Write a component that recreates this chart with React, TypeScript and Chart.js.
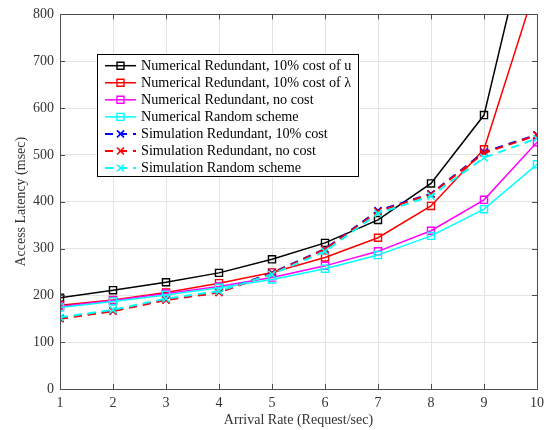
import React, { useEffect, useRef } from "react";
import { Chart, registerables } from "chart.js";
Chart.register(...registerables);

const arrivalRates = [1, 2, 3, 4, 5, 6, 7, 8, 9, 10];
const numRedundantCostU = [195, 211, 228, 248, 277, 312, 361, 439, 585, 1060];
const numRedundantCostLambda = [179, 190, 206, 226, 249, 281, 323, 391, 512, 868];
const numRedundantNoCost = [176, 189, 204, 219, 238, 263, 294, 338, 404, 527];
const numRandom = [174, 187, 201, 216, 234, 257, 286, 327, 384, 480];
const simRedundantCost = [151, 167, 191, 207, 248, 299, 381, 417, 506, 543];
const simRedundantNoCost = [150, 166, 190, 206, 247, 298, 379, 416, 504, 542];
const simRandom = [153, 169, 193, 209, 245, 294, 375, 412, 494, 535];

const seriesLabels = [
  "Numerical Redundant, 10% cost of u",
  "Numerical Redundant, 10% cost of \u03bb",
  "Numerical Redundant, no cost",
  "Numerical Random scheme",
  "Simulation Redundant, 10% cost",
  "Simulation Redundant, no cost",
  "Simulation Random scheme",
];
const seriesColors = ["#000000", "#ff0000", "#ff00ff", "#00ffff", "#0000ff", "#ff0000", "#00ffff"];
const yTicks = [0, 100, 200, 300, 400, 500, 600, 700, 800];

const FONT = "'Liberation Serif', 'Times New Roman', serif";

export default function App() {
  const ref = useRef<HTMLCanvasElement>(null);

  useEffect(() => {
    const canvas = ref.current!;
    const values = [
      numRedundantCostU,
      numRedundantCostLambda,
      numRedundantNoCost,
      numRandom,
      simRedundantCost,
      simRedundantNoCost,
      simRandom,
    ];
    const datasets = values.map((vals, i) => {
      const sim = i >= 4;
      return {
        label: seriesLabels[i],
        data: vals.map((y, k) => ({ x: arrivalRates[k], y })),
        borderColor: seriesColors[i],
        backgroundColor: "rgba(0,0,0,0)",
        borderWidth: sim ? 2 : 1.5,
        borderDash: sim ? [8, 6] : [],
        pointStyle: sim ? "crossRot" : "rect",
        pointRadius: 5,
        pointBorderWidth: sim ? 1.6 : 1.4,
        pointBorderColor: seriesColors[i],
        pointBackgroundColor: "rgba(0,0,0,0)",
        tension: 0,
        order: 6 - i,
      };
    });

    const framePlugin = {
      id: "frameLegend",
      afterDraw(chart: any) {
        const ctx = chart.ctx as CanvasRenderingContext2D;
        const { left, right, top, bottom } = chart.chartArea;
        const xs = chart.scales.x;
        const ys = chart.scales.y;
        ctx.save();
        ctx.strokeStyle = "#4d4d4d";
        ctx.lineWidth = 1;
        ctx.strokeRect(Math.round(left) + 0.5, Math.round(top) + 0.5, Math.round(right - left), Math.round(bottom - top));
        ctx.beginPath();
        const tl = 5;
        arrivalRates.forEach((v) => {
          const px = Math.round(xs.getPixelForValue(v)) + 0.5;
          ctx.moveTo(px, bottom);
          ctx.lineTo(px, bottom - tl);
          ctx.moveTo(px, top);
          ctx.lineTo(px, top + tl);
        });
        yTicks.forEach((v) => {
          const py = Math.round(ys.getPixelForValue(v)) + 0.5;
          ctx.moveTo(left, py);
          ctx.lineTo(left + tl, py);
          ctx.moveTo(right, py);
          ctx.lineTo(right - tl, py);
        });
        ctx.stroke();

        const bx = 97.5, by = 54.5, bw = 261, bh = 122;
        ctx.fillStyle = "#ffffff";
        ctx.fillRect(bx, by, bw, bh);
        ctx.strokeStyle = "#000000";
        ctx.lineWidth = 1;
        ctx.strokeRect(bx, by, bw, bh);
        ctx.font = `14.2px ${FONT}`;
        ctx.textBaseline = "middle";
        ctx.textAlign = "left";
        chart.data.datasets.forEach((ds: any, i: number) => {
          const y = 65.7 + i * 17.05;
          ctx.strokeStyle = ds.borderColor;
          ctx.lineWidth = ds.borderWidth;
          ctx.setLineDash(ds.borderDash || []);
          ctx.beginPath();
          ctx.moveTo(105, y);
          ctx.lineTo(136, y);
          ctx.stroke();
          ctx.setLineDash([]);
          const mx = 120.5;
          ctx.lineWidth = ds.pointBorderWidth;
          ctx.beginPath();
          if (ds.pointStyle === "rect") {
            ctx.rect(mx - 3.5, y - 3.5, 7, 7);
          } else {
            ctx.moveTo(mx - 3.5, y - 3.5);
            ctx.lineTo(mx + 3.5, y + 3.5);
            ctx.moveTo(mx + 3.5, y - 3.5);
            ctx.lineTo(mx - 3.5, y + 3.5);
          }
          ctx.stroke();
          ctx.fillStyle = "#000000";
          ctx.fillText(ds.label, 141, y + 0.5);
        });
        ctx.restore();
      },
    };

    const chart = new Chart(canvas, {
      type: "line",
      data: { datasets: datasets as any },
      options: {
        animation: false,
        responsive: true,
        maintainAspectRatio: false,
        layout: { padding: { top: 14, right: 15, left: 0, bottom: 0 } },
        plugins: { legend: { display: false }, tooltip: { enabled: false } },
        scales: {
          x: {
            type: "linear",
            min: 1,
            max: 10,
            afterFit: (s: any) => {
              s.height = 41;
            },
            afterBuildTicks: (s: any) => {
              s.ticks = arrivalRates.map((v) => ({ value: v }));
            },
            ticks: {
              padding: 6,
              color: "#333333",
              font: { family: FONT, size: 14 },
              maxRotation: 0,
              autoSkip: false,
            },
            grid: { color: "#e3e3e3", drawTicks: false, lineWidth: 1 },
            border: { display: false },
            title: {
              display: true,
              text: "Arrival Rate (Request/sec)",
              color: "#333333",
              font: { family: FONT, size: 14 },
              padding: { top: 0, bottom: 1 },
            },
          },
          y: {
            type: "linear",
            min: 0,
            max: 800,
            afterFit: (s: any) => {
              s.width = 60;
            },
            afterBuildTicks: (s: any) => {
              s.ticks = yTicks.map((v) => ({ value: v }));
            },
            ticks: {
              padding: 6,
              color: "#333333",
              font: { family: FONT, size: 14 },
            },
            grid: { color: "#e3e3e3", drawTicks: false, lineWidth: 1 },
            border: { display: false },
            title: {
              display: true,
              text: "Access Latency (msec)",
              color: "#333333",
              font: { family: FONT, size: 14 },
              padding: { top: 12.6, bottom: 0 },
            },
          },
        },
      },
      plugins: [framePlugin],
    } as any);

    return () => chart.destroy();
  }, []);

  return (
    <div style={{ position: "absolute", left: 0, top: 0, width: 552, height: 430, background: "#ffffff" }}>
      <canvas ref={ref} />
    </div>
  );
}
